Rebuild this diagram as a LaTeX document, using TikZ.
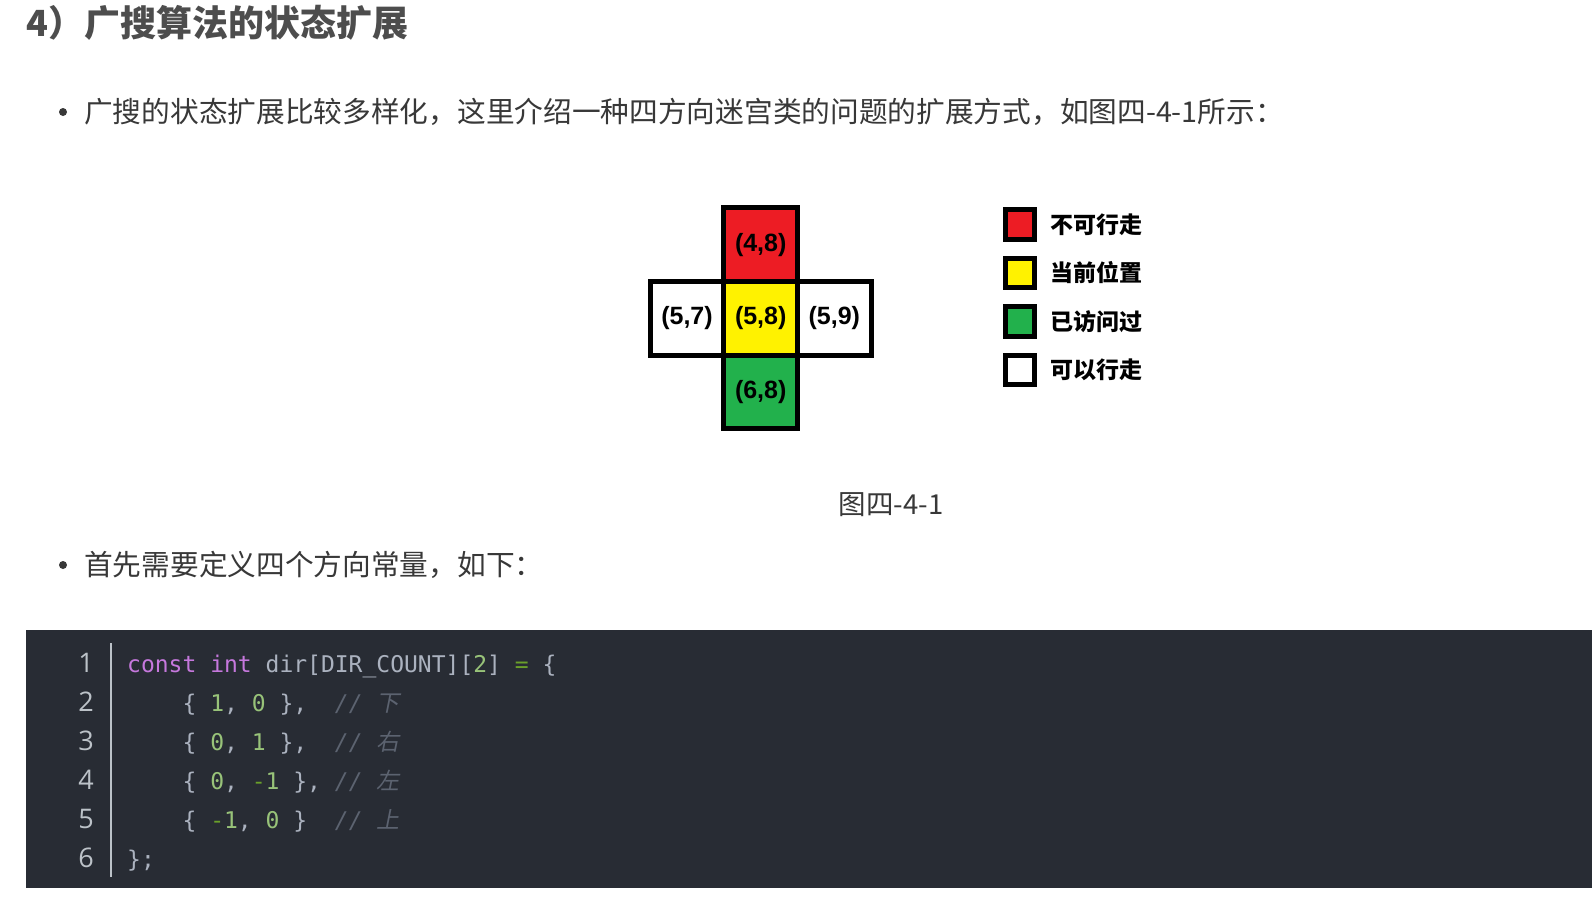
\documentclass[tikz,border=0pt]{standalone}
\usepackage{fontspec}
\usepackage{xcolor}
\usetikzlibrary{positioning}
\setmainfont{Noto Sans CJK SC}
\newfontfamily\cellfont{Liberation Sans}
\newfontfamily\codefont{DejaVu Sans Mono}
\newfontfamily\numfont{Open Sans}
\newfontfamily\cjkslant[FakeSlant=0.2]{Noto Sans CJK SC}

\definecolor{titlegray}{HTML}{4D4D4D}
\definecolor{bodygray}{HTML}{383838}
\definecolor{cellred}{HTML}{ED1C24}
\definecolor{cellyellow}{HTML}{FFF200}
\definecolor{cellgreen}{HTML}{22B14C}
\definecolor{codebg}{HTML}{282C34}
\definecolor{codefg}{HTML}{ABB2BF}
\definecolor{codekw}{HTML}{C678DD}
\definecolor{codenum}{HTML}{98C379}
\definecolor{codeop}{HTML}{6AA02A}
\definecolor{codecmt}{HTML}{5C6370}
\definecolor{linenogray}{HTML}{BCC2C8}

\newcommand\kwd[1]{\textcolor{codekw}{#1}}
\newcommand\cnum[1]{\textcolor{codenum}{#1}}
\newcommand\cop[1]{\textcolor{codeop}{#1}}
\newcommand\ccmt[1]{\textcolor{codecmt}{\itshape //~{\cjkslant #1}}}

\begin{document}
\begin{tikzpicture}[
  x=1pt, y=-1pt,
  title/.style={anchor=base west, inner sep=0, text=titlegray, font=\fontsize{36}{40}\selectfont\bfseries},
  bodytext/.style={anchor=base west, inner sep=0, text=bodygray, font=\fontsize{28.7}{34}\selectfont},
  cell/.style={draw=black, line width=5pt, minimum size=73.7pt, inner sep=0, font=\cellfont\fontsize{25}{30}\selectfont\bfseries},
  legbox/.style={draw=black, line width=5pt, minimum size=29.5pt, inner sep=0},
  legtext/.style={anchor=base west, inner sep=0, font=\fontsize{23}{28}\selectfont\bfseries},
  lineno/.style={anchor=base east, inner sep=0, text=linenogray, font=\numfont\fontsize{27}{30}\selectfont},
  codeline/.style={anchor=base west, inner sep=0, text=codefg, font=\codefont\fontsize{23}{28}\selectfont}
]
  \useasboundingbox[fill=white] (0,0) rectangle (1592,908);

  \node[title] (head) at (26,36.5) {4）广搜算法的状态扩展};

  \fill[bodygray] (63,112) circle (4);
  \node[bodytext] (intro) at (84,122.5) {广搜的状态扩展比较多样化，这里介绍一种四方向迷宫类的问题的扩展方式，如图四-4-1所示：};

  % cross of cells
  \node[cell, fill=cellred] (c48) at (760.7,244.7) {(4,8)};
  \node[cell, fill=white] (c57) at (687,318.2) {(5,7)};
  \node[cell, fill=white] (c59) at (834.3,318.2) {(5,9)};
  \node[cell, fill=cellgreen] (c68) at (760.7,391.7) {(6,8)};
  \node[cell, fill=cellyellow] (c58) at (760.7,318.2) {(5,8)};

  % legend
  \node[legbox, fill=cellred] (lred) at (1020,224.5) {};
  \node[legbox, fill=cellyellow] (lyellow) at (1020,273) {};
  \node[legbox, fill=cellgreen] (lgreen) at (1020,321.5) {};
  \node[legbox, fill=white] (lwhite) at (1020,370) {};
  \node[legtext] (tred) at (1050,233.2) {不可行走};
  \node[legtext] (tyellow) at (1050,281.7) {当前位置};
  \node[legtext] (tgreen) at (1050,330.2) {已访问过};
  \node[legtext] (twhite) at (1050,378.7) {可以行走};

  \node[anchor=base, inner sep=0, text=bodygray, font=\fontsize{27.5}{32}\selectfont] (caption) at (891,514) {图四-4-1};

  \fill[bodygray] (63,565) circle (4);
  \node[bodytext] (next) at (84,575.5) {首先需要定义四个方向常量，如下：};

  % code block
  \fill[codebg] (26,630) rectangle (1592,888);
  \draw[linenogray, line width=2pt] (110.7,643) -- (110.7,877);
  \foreach \i in {1,...,6}
    \node[lineno] (ln\i) at (94,{672.5+39*(\i-1)}) {\i};
  \node[codeline] (code1) at (127,672) {\kwd{const} \kwd{int} dir[DIR\_COUNT][\cnum{2}] \cop{=} \{};
  \node[codeline] (code2) at (127,711) {~~~~\{ \cnum{1}, \cnum{0} \},~~\ccmt{下}};
  \node[codeline] (code3) at (127,750) {~~~~\{ \cnum{0}, \cnum{1} \},~~\ccmt{右}};
  \node[codeline] (code4) at (127,789) {~~~~\{ \cnum{0}, \cop{-}\cnum{1} \},~\ccmt{左}};
  \node[codeline] (code5) at (127,828) {~~~~\{ \cop{-}\cnum{1}, \cnum{0} \}~~\ccmt{上}};
  \node[codeline] (code6) at (127,867) {\};};
\end{tikzpicture}
\end{document}
